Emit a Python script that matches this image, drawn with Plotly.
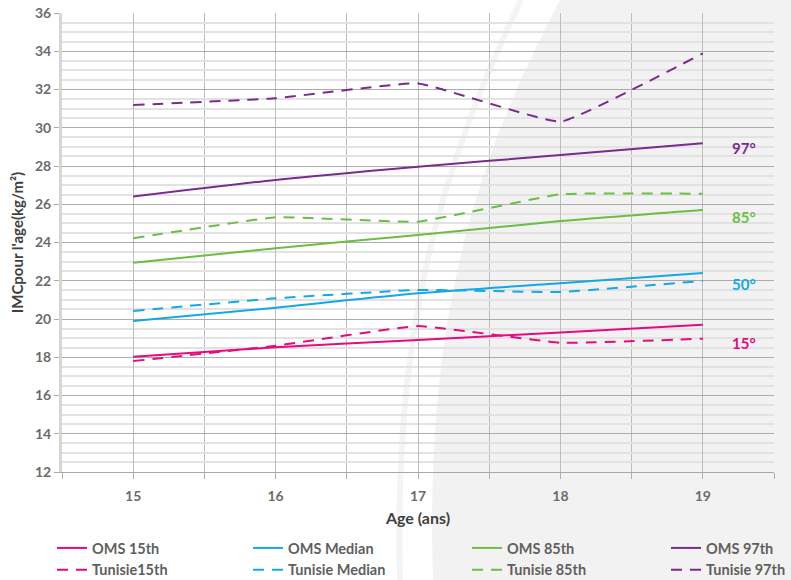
import plotly.graph_objects as go

ages = [15, 16, 17, 18, 19]

oms_15 = [18.03, 18.52, 18.90, 19.30, 19.70]
oms_50 = [19.90, 20.59, 21.34, 21.87, 22.41]
oms_85 = [22.94, 23.70, 24.39, 25.12, 25.70]
oms_97 = [26.40, 27.27, 27.96, 28.57, 29.19]

tun_15 = [17.80, 18.60, 19.63, 18.76, 18.97]
tun_50 = [20.42, 21.08, 21.52, 21.41, 21.99]
tun_85 = [24.22, 25.32, 25.09, 26.52, 26.55]
tun_97 = [31.19, 31.54, 32.32, 30.32, 33.89]

oms_names = ["OMS 15th", "OMS Median", "OMS 85th", "OMS 97th"]
tun_names = ["Tunisie15th", "Tunisie Median", "Tunisie 85th", "Tunisie 97th"]
colors = ["#e8097f", "#12a9e6", "#6cbd45", "#7b2a8e"]

side_labels = ["15°", "50°", "85°", "97°"]
side_label_y = [18.75, 21.83, 25.33, 28.94]
side_label_x = 19.29

x_ticks = [15, 16, 17, 18, 19]

FONT = "Lato"

fig = go.Figure()

oms_sets = [oms_15, oms_50, oms_85, oms_97]
tun_sets = [tun_15, tun_50, tun_85, tun_97]
legend_ids = ["legend", "legend2", "legend3", "legend4"]

for i in range(4):
    fig.add_trace(go.Scatter(
        x=ages, y=oms_sets[i], mode="lines", name=oms_names[i],
        line=dict(color=colors[i], width=2, shape="spline", smoothing=0.8),
        legend=legend_ids[i], hoverinfo="skip"))
    fig.add_trace(go.Scatter(
        x=ages, y=tun_sets[i], mode="lines", name=tun_names[i],
        line=dict(color=colors[i], width=2, dash="11px,8px", shape="spline", smoothing=0.3),
        legend=legend_ids[i], hoverinfo="skip"))

for i in range(4):
    fig.add_annotation(x=side_label_x, y=side_label_y[i], xref="x", yref="y",
                       text=side_labels[i], showarrow=False,
                       font=dict(family=FONT, size=15, color=colors[i], weight="bold"))

# background decoration (pixel -> paper helpers)
W, H = 791, 580
L, R, T, B = 62, 774, 13, 472
def px(xp):
    return (xp - L) / (R - L)
def py(yp):
    return (B - yp) / (B - T)

bg_path = (f"M {px(560)} {py(0)} C {px(470)} {py(170)}, {px(425)} {py(330)}, {px(433)} {py(580)} "
           f"L {px(791)} {py(580)} L {px(791)} {py(0)} Z")
fig.add_shape(type="path", path=bg_path, xref="paper", yref="paper",
              fillcolor="#f2f2f2", line=dict(width=0), layer="below")
arc_path = (f"M {px(521)} {py(0)} C {px(440)} {py(170)}, {px(393)} {py(330)}, {px(400)} {py(580)}")
fig.add_shape(type="path", path=arc_path, xref="paper", yref="paper",
              line=dict(color="#f4f4f4", width=6), layer="below")

legend_common = dict(orientation="v", yanchor="top", xanchor="left",
                     bgcolor="rgba(0,0,0,0)", tracegroupgap=0,
                     font=dict(family=FONT, size=14.5, color="#5f5f5f", weight="bold"))
col_text_x = [92, 288, 507, 706]
layout_legends = {}
for i, lid in enumerate(legend_ids):
    layout_legends[lid] = dict(legend_common, x=px(col_text_x[i] - 40), y=py(532))

fig.update_layout(
    width=W, height=H,
    margin=dict(l=L, r=W - R, t=T, b=H - B, autoexpand=False),
    paper_bgcolor="white",
    plot_bgcolor="rgba(0,0,0,0)",
    showlegend=True,
    **layout_legends,
    xaxis=dict(
        range=[14.5, 19.5], tickvals=x_ticks, ticktext=[str(v) for v in x_ticks],
        automargin=False, ticklabelstandoff=5,
        showgrid=True, gridcolor="#bdbdbd", gridwidth=1,
        ticks="outside", ticklen=6, tickcolor="#b0b0b0",
        minor=dict(dtick=0.5, tick0=14.5, showgrid=True, gridcolor="#bdbdbd", gridwidth=1,
                   ticks="outside", ticklen=6, tickcolor="#b0b0b0"),
        showline=True, linecolor="#a8a8a8", linewidth=1, zeroline=False,
        tickfont=dict(family=FONT, size=14, color="#6b6b6b", weight="bold"),
        title=dict(text="Age (ans)", standoff=10,
                   font=dict(family=FONT, size=16, color="#404040", weight="bold")),
    ),
    yaxis=dict(
        range=[12, 36], dtick=2, tick0=12,
        automargin=False,
        showgrid=True, gridcolor="#ababab", gridwidth=1,
        ticks="outside", ticklen=5, tickcolor="#ababab",
        minor=dict(dtick=0.5, tick0=12, showgrid=True, gridcolor="#e2e2e2", gridwidth=2),
        showline=True, linecolor="#d6d6d6", linewidth=3, zeroline=False,
        tickfont=dict(family=FONT, size=14, color="#6b6b6b", weight="bold"),
        title=dict(text="IMCpour l'age(kg/m²)", standoff=8,
                   font=dict(family=FONT, size=15, color="#404040", weight="bold")),
    ),
)

fig.write_html("out.html", config={"displayModeBar": False},
               post_script="document.body.style.margin='0';")
